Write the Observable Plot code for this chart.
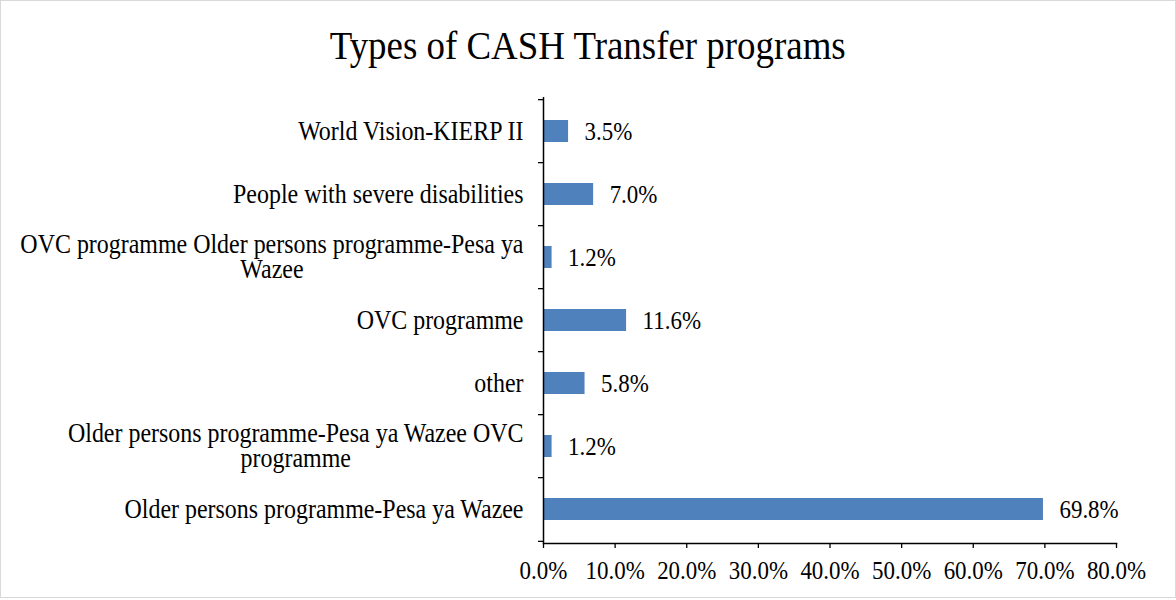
<!DOCTYPE html>
<html>
<head>
<meta charset="utf-8">
<script src="https://cdn.jsdelivr.net/npm/d3@7"></script>
<script src="https://cdn.jsdelivr.net/npm/@observablehq/plot@0.6"></script>
<style>
  html, body { margin: 0; padding: 0; background: #fff; }
  #wrap { position: relative; width: 1176px; height: 600px; overflow: hidden; background: #fff; }
  #border { position: absolute; left: 0; top: 0; width: 1176px; height: 598px; box-sizing: border-box; border: 1px solid #d9d9d9; pointer-events: none; }
  #title { height: 80px; box-sizing: border-box; padding-top: 22px; text-align: center;
           font-family: "Liberation Serif", "Times New Roman", serif; font-size: 41px; line-height: 46px; color: #000; }
  #title span { display: inline-block; transform: scaleX(0.9); transform-origin: center; }
  svg { display: block; }
</style>
</head>
<body>
<div id="wrap">
  <div id="title"><span>Types of CASH Transfer programs</span></div>
  <div id="chart"></div>
  <div id="border"></div>
</div>
<script>
// Categories, top to bottom
const categories = [
  "World Vision-KIERP II",
  "People with severe disabilities",
  "OVC programme Older persons programme-Pesa ya Wazee",
  "OVC programme",
  "other",
  "Older persons programme-Pesa ya Wazee OVC programme",
  "Older persons programme-Pesa ya Wazee"
];
// Displayed (wrapped) tick labels
const tickLabels = [
  "World Vision-KIERP II",
  "People with severe disabilities",
  "OVC programme Older persons programme-Pesa ya\nWazee",
  "OVC programme",
  "other",
  "Older persons programme-Pesa ya Wazee OVC\nprogramme",
  "Older persons programme-Pesa ya Wazee"
];
// Percent values
const values = [3.5, 7.0, 1.2, 11.6, 5.8, 1.2, 69.8];
// X tick values
const xTicks = [0, 10, 20, 30, 40, 50, 60, 70, 80];

const data = categories.map((c, i) => ({category: c, value: values[i]}));
const labelOf = new Map(categories.map((c, i) => [c, tickLabels[i]]));

const W = 1176, H = 520, mT = 17, mB = 57, mL = 543, mR = 60;
const step = (H - mT - mB) / categories.length;
const font = "'Liberation Serif', 'Times New Roman', serif";
const SX = 0.9; // horizontal glyph compression, as in the reference rendering

const chart = Plot.plot({
  width: W,
  height: H,
  marginTop: mT,
  marginBottom: mB,
  marginLeft: mL,
  marginRight: mR,
  style: {fontFamily: font, fontSize: "25px", color: "#000", background: "#fff", overflow: "visible"},
  x: {domain: [0, 80], ticks: xTicks},
  y: {domain: categories, paddingInner: 0.65, paddingOuter: 0.325},
  marks: [
    Plot.barX(data, {x: "value", y: "category", fill: "#4F81BD"}),
    Plot.text(data, {x: "value", y: "category", text: d => d.value.toFixed(1) + "%",
      textAnchor: "start", dx: 16, fontSize: 25.5, fill: "#000"}),
    Plot.axisX({ticks: xTicks, tickSize: 5, tickPadding: 12, tickFormat: d => d.toFixed(1) + "%",
      fontSize: 25.5, stroke: "#000", strokeWidth: 1.3, label: null}),
    Plot.axisY({tickSize: 0, tickPadding: 20, tickFormat: d => labelOf.get(d), fontSize: 26.6,
      lineHeight: 0.95, label: null}),
    Plot.axisY({text: null, tickSize: 5, dy: -step / 2, stroke: "#000", strokeWidth: 1.3, label: null}),
    Plot.axisY({ticks: [categories[categories.length - 1]], text: null, tickSize: 5, dy: step / 2,
      stroke: "#000", strokeWidth: 1.3, label: null}),
    Plot.ruleX([0], {stroke: "#000", strokeWidth: 1.5}),
    Plot.frame({anchor: "bottom", stroke: "#000", strokeWidth: 1.5})
  ]
});

document.getElementById("chart").appendChild(chart);

chart.querySelectorAll("text").forEach(t => {
  // Center-align wrapped (multi-line) category labels, Excel style
  const spans = t.querySelectorAll("tspan");
  if (spans.length > 1) {
    let maxW = 0;
    spans.forEach(s => { maxW = Math.max(maxW, s.getComputedTextLength()); });
    t.setAttribute("text-anchor", "middle");
    spans.forEach(s => s.setAttribute("x", -maxW / 2));
  }
  // Compress glyphs horizontally around the anchor point
  const x = +(t.getAttribute("x") || 0);
  const tr = t.getAttribute("transform") || "";
  t.removeAttribute("x");
  if (x) {
    t.setAttribute("transform", `${tr} translate(${x},0) scale(${SX},1)`);
  } else {
    t.setAttribute("transform", `${tr} scale(${SX},1)`);
  }
});
</script>
</body>
</html>
